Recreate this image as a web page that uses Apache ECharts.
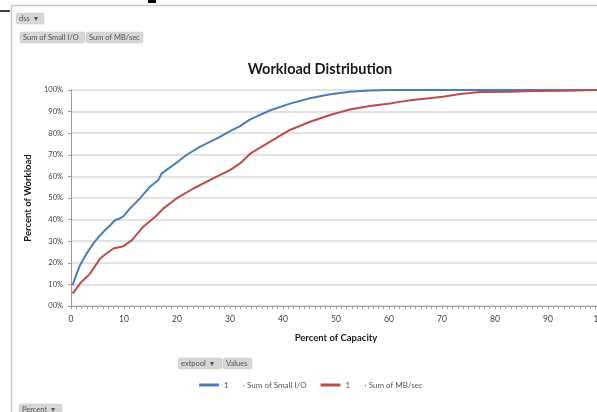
<!DOCTYPE html>
<html><head><meta charset="utf-8">
<script src="https://cdn.jsdelivr.net/npm/echarts@6/dist/echarts.min.js"></script>
<style>html,body{margin:0;padding:0;background:#fff}#c{width:597px;height:412px}</style>
</head><body><div id="c"></div>
<script>
const seriesNames = ['Sum of Small I/O', 'Sum of MB/sec'];
const xTickLabels = [0,10,20,30,40,50,60,70,80,90,100];
const yTickLabels = ['00%','10%','20%','30%','40%','50%','60%','70%','80%','90%','100%'];

const smallIoCapacity = [0.3,1,1.7,3,4.2,5.3,6.4,7.5,8.3,9.2,10,11.1,13,14.9,16.5,17.1,19.3,21.8,24.3,28.1,30,31.9,33.8,37.5,41.3,45.1,48.9,52.6,56.4,60.2,65,70,80,90,100];
const smallIoWorkload = [9.6,14.5,18.9,24.5,28.9,32.2,35.1,37.6,39.7,40.5,41.8,45.1,49.8,55.2,58.3,61.4,65.2,69.9,73.7,78.3,81,83.3,86.4,90.5,93.7,96.2,98,99.2,99.8,100,100,100,100,100,100];

const mbCapacity = [0.3,1.7,3.6,5.5,6.8,8,9.9,11.5,13.6,16.2,17.4,19.9,23.1,26.8,30,31.9,33.8,37.5,41.3,45.1,48.9,52.6,56.4,60.2,62,64,67.1,70.2,73.4,77.2,82.8,87.2,93.6,98.5,100];
const mbWorkload = [5.7,10.4,15,22,24.5,26.6,27.7,30.5,36.6,42,45.1,49.8,54.4,59.1,62.9,66,70.5,76,81.5,85.3,88.4,91,92.6,93.8,94.5,95.2,96.1,96.9,98.1,99.1,99.2,99.5,99.7,100,100];

const toPairs = (xs, ys) => xs.map((x, i) => [x, ys[i]]);
const FONT = 'Lato, "Open Sans", sans-serif';

function button(x, y, w, h, label) {
  return [
    {type:'rect', shape:{x:x, y:y, width:w, height:h, r:2}, style:{fill:'#d6d6d6', stroke:'#c4c4c4', lineWidth:0.5}},
    {type:'text', x:x+3, y:y+h/2, style:{text:label, fill:'#555', font:'7.5px ' + FONT, verticalAlign:'middle'}}
  ];
}

const chart = echarts.init(document.getElementById('c'), null, {renderer:'canvas'});
chart.setOption({
  animation:false,
  backgroundColor:'#fff',
  title:{text:'Workload Distribution', left:315, textAlign:'center', top:57,
    textStyle:{fontFamily:FONT, fontSize:14.5, fontWeight:'bold', color:'#1a1a1a'}},
  grid:{left:71, right:-4, top:90, bottom:106, containLabel:false, outerBoundsMode:'none'},
  legend:{left:194, top:376, itemWidth:20, itemHeight:3, itemGap:14, icon:'rect',
    data:seriesNames,
    formatter: n => '1       · ' + n,
    textStyle:{fontFamily:FONT, fontSize:8, color:'#555'}},
  xAxis:{type:'value', min:0, max:100, interval:10,
    name:'Percent of Capacity', nameLocation:'middle', nameGap:27,
    nameTextStyle:{fontFamily:FONT, fontSize:9.5, fontWeight:'bold', color:'#1a1a1a'},
    axisLine:{show:true, lineStyle:{color:'#9a9a9a', width:1}},
    axisTick:{show:true, length:3, lineStyle:{color:'#9a9a9a'}},
    minorTick:{show:true, splitNumber:10, length:3, lineStyle:{color:'#9a9a9a'}},
    splitLine:{show:false},
    axisLabel:{margin:9, fontFamily:FONT, fontSize:8.5, color:'#404040', hideOverlap:false,
      formatter: v => String(xTickLabels[Math.round(v/10)])}},
  yAxis:{type:'value', min:0, max:100, interval:10,
    name:'Percent of Workload', nameLocation:'middle', nameGap:35, nameRotate:90,
    nameTextStyle:{fontFamily:FONT, fontSize:9.5, fontWeight:'bold', color:'#1a1a1a'},
    axisLine:{show:true, lineStyle:{color:'#9a9a9a', width:1}},
    axisTick:{show:true, length:3, lineStyle:{color:'#9a9a9a'}},
    splitLine:{show:true, lineStyle:{color:'#d9d9d9', width:1.6}},
    axisLabel:{margin:8, fontFamily:FONT, fontSize:7.5, color:'#404040',
      formatter: v => yTickLabels[Math.round(v/10)]}},
  series:[
    {name:seriesNames[0], type:'line', data:toPairs(smallIoCapacity, smallIoWorkload),
      showSymbol:false, lineStyle:{color:'#4a7ebb', width:2}, itemStyle:{color:'#4a7ebb'}},
    {name:seriesNames[1], type:'line', data:toPairs(mbCapacity, mbWorkload),
      showSymbol:false, lineStyle:{color:'#be4b48', width:2}, itemStyle:{color:'#be4b48'}}
  ],
  graphic:[
    {type:'line', shape:{x1:11.5, y1:5.5, x2:597, y2:5.5}, style:{stroke:'#c8c8c8', lineWidth:1.5}},
    {type:'line', shape:{x1:11.5, y1:5.5, x2:11.5, y2:412}, style:{stroke:'#c8c8c8', lineWidth:1.5}},
    {type:'line', shape:{x1:0, y1:11, x2:10, y2:11}, style:{stroke:'#000', lineWidth:1.5}},
    {type:'rect', shape:{x:148, y:0, width:8, height:3}, style:{fill:'#000'}},
    ...button(16, 13, 28, 11, 'dss  ▾'),
    ...button(20, 32, 65, 11, 'Sum of Small I/O'),
    ...button(86, 32, 57, 11, 'Sum of MB/sec'),
    ...button(178, 358, 44, 11, 'extpool  ▾'),
    ...button(223, 358, 29, 11, 'Values'),
    ...button(19, 404, 43, 12, 'Percent  ▾')
  ]
});
</script></body></html>
